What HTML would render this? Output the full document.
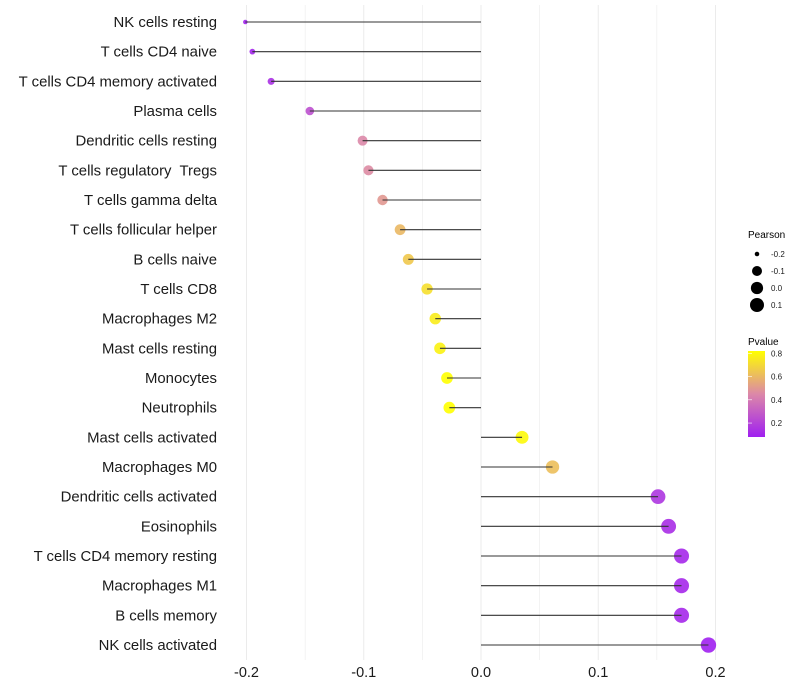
<!DOCTYPE html>
<html><head><meta charset="utf-8"><style>
body{margin:0;background:#fff;}
svg{display:block;font-family:"Liberation Sans",sans-serif;}
text{white-space:pre;}
</style></head><body>
<svg id="chart" width="800" height="700" viewBox="0 0 800 700">
<g id="grid"></g>
<g id="ylabels"></g>
<g id="marks"></g>
<g id="xlabels"></g>
<g id="legend">
<text x="748" y="238" font-size="10" fill="#000">Pearson</text>
<g id="sizeleg"></g>
<text x="748" y="345" font-size="10" fill="#000">Pvalue</text>
<defs><linearGradient id="pg" x1="0" y1="1" x2="0" y2="0">
<stop offset="0" stop-color="#a020f0"/><stop offset="0.5" stop-color="#dc88a8"/><stop offset="1" stop-color="#ffff00"/></linearGradient></defs>
<rect x="748" y="351" width="17" height="86" fill="url(#pg)"/>
<g id="colleg"></g>
</g>
</svg>
<script>
const categories=["NK cells resting","T cells CD4 naive","T cells CD4 memory activated","Plasma cells","Dendritic cells resting","T cells regulatory  Tregs","T cells gamma delta","T cells follicular helper","B cells naive","T cells CD8","Macrophages M2","Mast cells resting","Monocytes","Neutrophils","Mast cells activated","Macrophages M0","Dendritic cells activated","Eosinophils","T cells CD4 memory resting","Macrophages M1","B cells memory","NK cells activated"];
const pearson=[-0.201,-0.195,-0.179,-0.146,-0.101,-0.096,-0.084,-0.069,-0.062,-0.046,-0.039,-0.035,-0.029,-0.027,0.035,0.061,0.151,0.160,0.171,0.171,0.171,0.194];
const pvalue=[0.09,0.1,0.14,0.25,0.45,0.46,0.5,0.6,0.65,0.72,0.76,0.78,0.84,0.84,0.8,0.62,0.16,0.13,0.11,0.11,0.11,0.08];
const xTicks=[-0.2,-0.1,0.0,0.1,0.2];
const xTickLabels=["-0.2","-0.1","0.0","0.1","0.2"];
const sizeLegVals=[-0.2,-0.1,0.0,0.1];
const sizeLegLabels=["-0.2","-0.1","0.0","0.1"];
const colLegVals=[0.2,0.4,0.6,0.8];
const colLegLabels=["0.2","0.4","0.6","0.8"];

const NS="http://www.w3.org/2000/svg";
const x=v=>481+v*1172.5;
const y=i=>22+i*29.667;
const r=v=>2.27+5.46*Math.sqrt(Math.max(0,(v+0.2)/0.4));
const pMin=0.08,pMax=0.82;
const py=p=>437-(p-pMin)/(pMax-pMin)*86;
function lerp(a,b,t){return a.map((c,i)=>Math.round(c+(b[i]-c)*t));}
function col(p){let t=Math.max(0,Math.min(1,(p-pMin)/(pMax-pMin)));
 const A=[160,32,240],B=[220,136,168],C=[255,255,0];
 const c=t<0.5?lerp(A,B,t/0.5):lerp(B,C,(t-0.5)/0.5);return `rgb(${c})`;}
function mk(tag,attrs,parent){const e=document.createElementNS(NS,tag);for(const k in attrs)e.setAttribute(k,attrs[k]);parent.appendChild(e);return e;}
const grid=document.getElementById('grid'),yl=document.getElementById('ylabels'),marks=document.getElementById('marks'),xl=document.getElementById('xlabels');
for(let v=-0.2;v<=0.2001;v+=0.05){const g=mk('line',{x1:x(v),x2:x(v),y1:5,y2:660,stroke:'#ebebeb','stroke-width':Math.abs(Math.round(v*100))%10===0?1:0.6},grid);

}
categories.forEach((c,i)=>{
 const t=mk('text',{x:217,y:y(i)+5,'font-size':14.9,'text-anchor':'end',fill:'#1a1a1a'},yl);t.textContent=c;
 
 
 const p=mk('circle',{cx:x(pearson[i]),cy:y(i),r:r(pearson[i]),fill:col(pvalue[i]),'fill-opacity':0.9},marks);
 
 
 const l=mk('line',{x1:x(0),x2:x(pearson[i]),y1:y(i),y2:y(i),stroke:'#333','stroke-width':1.1},marks);
 
 
});
xTicks.forEach((v,i)=>{const t=mk('text',{x:x(v),y:677,'font-size':14.5,'text-anchor':'middle',fill:'#1a1a1a'},xl);t.textContent=xTickLabels[i];
 
 });
const sl=document.getElementById('sizeleg');
sizeLegVals.forEach((v,i)=>{const cy=254+i*17;
 const c=mk('circle',{cx:757,cy:cy,r:r(v),fill:'#000'},sl);
 
 
 const t=mk('text',{x:771,y:cy+3,'font-size':8,fill:'#1a1a1a'},sl);t.textContent=sizeLegLabels[i];
 
 });
const cl=document.getElementById('colleg');
colLegVals.forEach((v,i)=>{const yy=py(v);
 const tk=mk('line',{x1:748,x2:752,y1:yy,y2:yy,stroke:'#fff','stroke-width':0.6},cl);
 
 
 const t=mk('text',{x:771,y:yy+3,'font-size':8,fill:'#1a1a1a'},cl);t.textContent=colLegLabels[i];
 
 });
</script>
</body></html>
